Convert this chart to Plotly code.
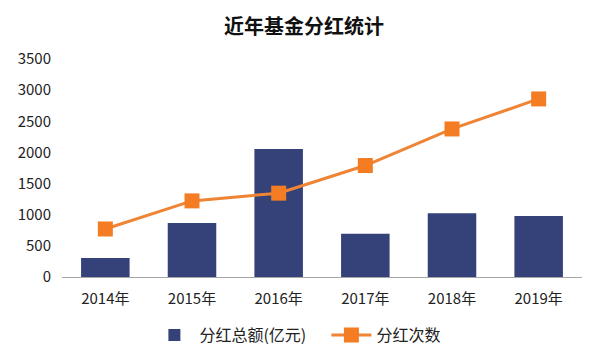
import plotly.graph_objects as go

years = ["2014年", "2015年", "2016年", "2017年", "2018年", "2019年"]
amount = [305, 867, 2055, 695, 1025, 980]
count = [771, 1222, 1346, 1790, 2377, 2859]
y_ticks = [0, 500, 1000, 1500, 2000, 2500, 3000, 3500]

font_family = "Noto Sans CJK SC, Noto Sans, sans-serif"

fig = go.Figure()
fig.add_trace(go.Bar(
    x=years, y=amount, name="分红总额(亿元)",
    marker=dict(color="#35427A", line=dict(width=0)),
))
fig.add_trace(go.Scatter(
    x=years, y=count, name="分红次数", mode="lines+markers",
    line=dict(color="#EE8434", width=3),
    marker=dict(symbol="square", size=15, color="#F47C22"),
))

# page body has an 8px margin, so the figure is offset by 8px
W, H = 592, 352
fig.update_layout(
    width=W, height=H,
    margin=dict(l=54, r=18, t=51, b=83, autoexpand=False),
    paper_bgcolor="white", plot_bgcolor="white",
    title=dict(text="<b>近年基金分红统计</b>", x=0.5, xanchor="center",
               yref="container", y=1 - 19 / H, yanchor="middle",
               font=dict(family=font_family, size=20, color="#111111")),
    font=dict(family=font_family, size=15, color="#222222"),
    bargap=0.44,
    showlegend=True,
    legend=dict(orientation="h", x=0.5 + 5 / W, xanchor="center",
                yref="container", y=25 / H, yanchor="middle",
                font=dict(size=16, color="#222222"), itemwidth=40,
                entrywidth=122, entrywidthmode="pixels"),
    xaxis=dict(showline=True, linecolor="#A6A6A6", linewidth=1, showgrid=False,
               ticks="", tickfont=dict(size=15), automargin=False,
               ticklabelstandoff=8),
    yaxis=dict(range=[0, 3500], tickvals=y_ticks, showgrid=False, showline=False,
               zeroline=False, ticks="", tickfont=dict(size=15), automargin=False,
               ticklabelstandoff=10),
)

fig.write_html("out.html")
